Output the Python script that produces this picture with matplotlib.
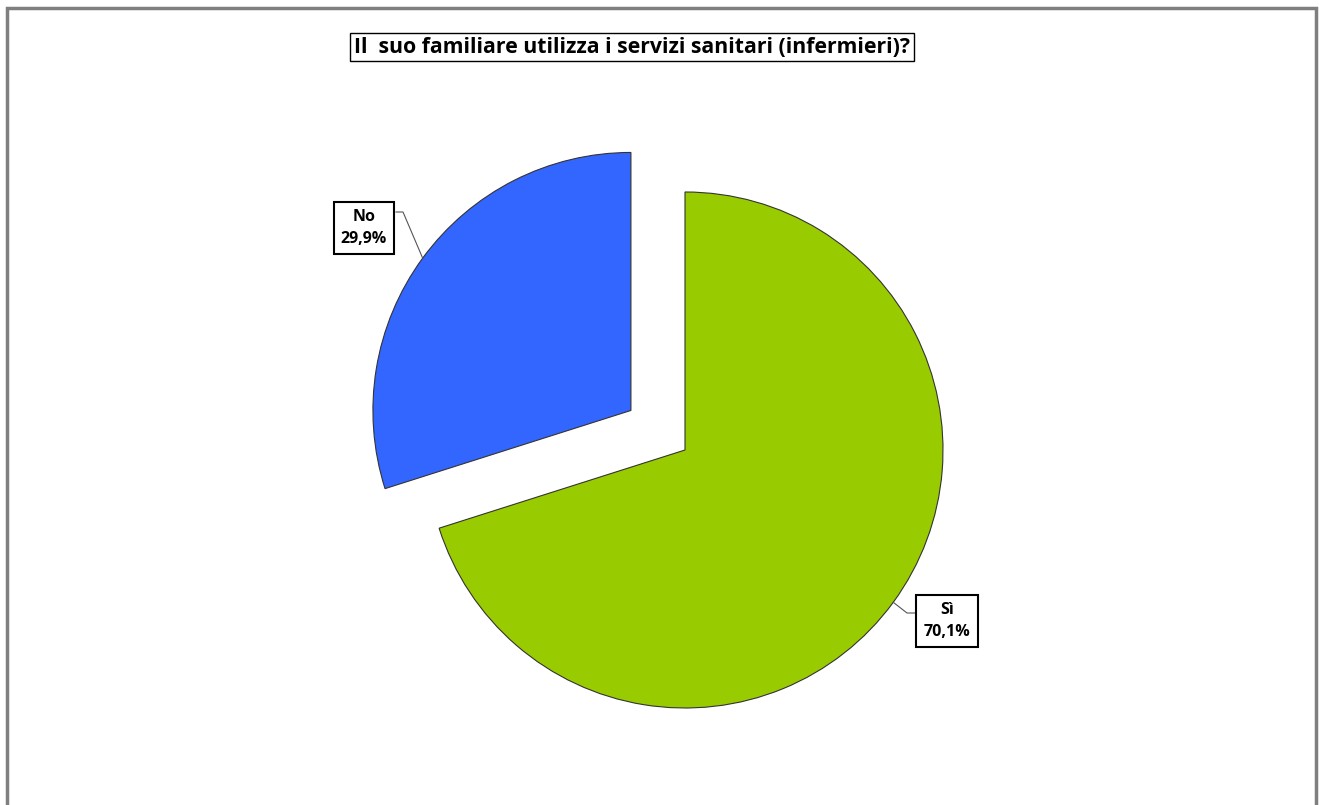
import numpy as np
import matplotlib.pyplot as plt
from matplotlib.patches import Rectangle

# Dati del grafico
categorie = ["No", "Sì"]
percentuali = [29.9, 70.1]
colori = ["#3366FF", "#99CC00"]
titolo = "Il  suo familiare utilizza i servizi sanitari (infermieri)?"

W, H = 1319, 805
fig = plt.figure(figsize=(W / 100, H / 100), dpi=100)
ax = fig.add_axes([0, 0, 1, 1])

centro = (685, H - 450)
raggio = 258
esplodi = [67, 0]  # in unità dei dati (pixel)

wedges, _ = ax.pie(percentuali, colors=colori, startangle=90, counterclock=True,
                   center=centro, radius=raggio, explode=esplodi,
                   wedgeprops=dict(edgecolor="#333333", linewidth=0.8))

# i limiti vanno fissati dopo pie(), che li reimposta
ax.set_xlim(0, W)
ax.set_ylim(0, H)
ax.set_aspect("equal")
ax.axis("off")

# Etichette con linee guida
pos_testo = [(364, H - 228), (947, H - 621)]
gomito = [(403, H - 212), (907, H - 613)]
bordo_box = [(396, H - 212), (917, H - 613)]
for w, cat, p, tp, gm, bb in zip(wedges, categorie, percentuali, pos_testo, gomito, bordo_box):
    ang = np.deg2rad((w.theta1 + w.theta2) / 2)
    cx, cy = w.center
    ax_pt = (cx + w.r * np.cos(ang), cy + w.r * np.sin(ang))
    ax.plot([ax_pt[0], gm[0], bb[0]], [ax_pt[1], gm[1], bb[1]], color="#555555", lw=0.8)
    etichetta = f"{cat}\n{p:.1f}%".replace(".", ",")
    ax.text(tp[0], tp[1], etichetta, ha="center", va="center", fontsize=11.5,
            fontweight="bold", family="Open Sans", linespacing=1.55,
            bbox=dict(boxstyle="square,pad=0.45", fc="white", ec="black", lw=1.5))

# Titolo
ax.text(632, H - 47, titolo, ha="center", va="center", fontsize=15.3,
        fontweight="bold", family="Open Sans",
        bbox=dict(boxstyle="square,pad=0.18", fc="white", ec="black", lw=1))

# Cornice grigia
fig.patches.append(Rectangle((7 / W, -0.05), (1316 - 7) / W, (H - 8) / H + 0.05,
                             transform=fig.transFigure, fill=False,
                             ec="#7f7f7f", lw=2.5))

fig.savefig("out.png", dpi=100)
